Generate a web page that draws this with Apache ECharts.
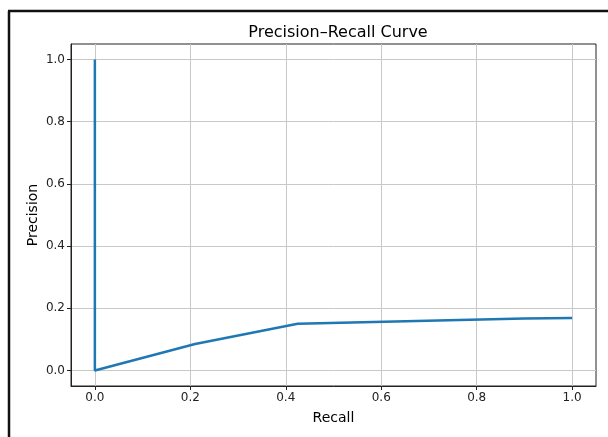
<!DOCTYPE html>
<html><head><meta charset="utf-8">
<script src="https://cdn.jsdelivr.net/npm/echarts@6/dist/echarts.min.js"></script>
<style>html,body{margin:0;padding:0;background:#fff}#c{width:608px;height:437px}</style>
</head><body><div id="c"></div>
<script>
const recall = [0, 0, 0.21, 0.425, 0.9, 1.0];
const precision = [1.0, 0.0, 0.085, 0.15, 0.167, 0.169];
const xTicks = [0, 0.2, 0.4, 0.6, 0.8, 1.0];
const yTicks = [0, 0.2, 0.4, 0.6, 0.8, 1.0];
const titleText = 'Precision\u2013Recall Curve';
const xName = 'Recall', yName = 'Precision';

const chart = echarts.init(document.getElementById('c'), null, {renderer: 'canvas'});
const font = 'DejaVu Sans';
const axisCommon = (ticks, name) => ({
  type: 'value', min: -0.05, max: 1.05,
  name: name, nameLocation: 'middle', nameMoveOverlap: false,
  nameTextStyle: {fontFamily: font, fontSize: 14, color: '#000'},
  axisLine: {show: true, onZero: false, lineStyle: {color: '#222', width: 1}},
  axisTick: {show: true, length: 4, inside: false, customValues: ticks, lineStyle: {color: '#222', width: 1}},
  axisLabel: {customValues: ticks, fontFamily: font, fontSize: 12, color: '#222', margin: 6,
    formatter: v => v.toFixed(1)},
  splitLine: {show: true, lineStyle: {color: '#c8c8c8', width: 1}}
});
const xa = axisCommon(xTicks, xName); xa.nameGap = 25;
const ya = axisCommon(yTicks, yName); ya.nameGap = 31;
chart.setOption({
  animation: false,
  title: {text: titleText, left: 333, top: 20, textAlign: 'center',
    textStyle: {fontFamily: font, fontSize: 16, fontWeight: 'normal', color: '#000'}},
  grid: {left: 71, right: 12, top: 44, bottom: 51, show: true, borderColor: '#222', borderWidth: 1, containLabel: false},
  xAxis: xa,
  yAxis: ya,
  series: [{
    type: 'line', data: recall.map((r, i) => [r, precision[i]]),
    showSymbol: false, symbol: 'none',
    lineStyle: {color: '#1f77b4', width: 2.5},
    itemStyle: {color: '#1f77b4'}
  }],
  graphic: [
    {type: 'line', shape: {x1: 9, y1: 11, x2: 9, y2: 437}, style: {stroke: '#111', lineWidth: 2.5}},
    {type: 'line', shape: {x1: 8, y1: 11, x2: 608, y2: 11}, style: {stroke: '#111', lineWidth: 2.5}}
  ]
});
</script></body></html>
